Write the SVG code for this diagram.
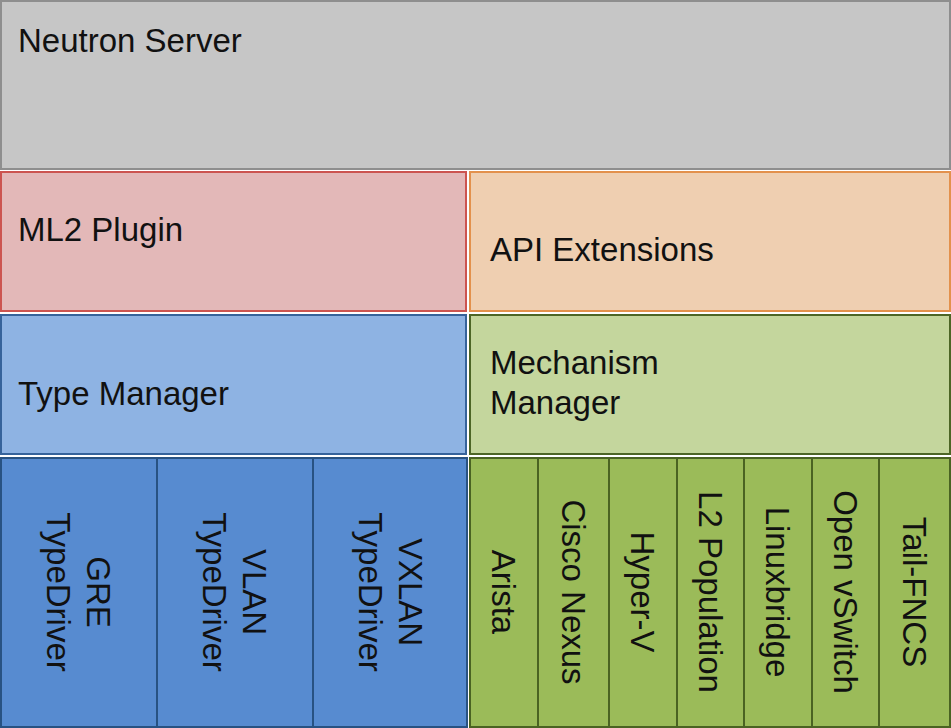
<svg xmlns="http://www.w3.org/2000/svg" width="951" height="728" viewBox="0 0 951 728">
<style>
text{font-family:"Liberation Sans",Arial,sans-serif;font-size:33px;fill:#111;}
.vt{text-anchor:middle;}
.srv{fill:#c6c6c6;stroke:#8e8e8e;stroke-width:2;}
.ml2{fill:#e3b8b8;stroke:#cc5450;stroke-width:2;}
.api{fill:#efcfb1;stroke:#e3914c;stroke-width:2;}
.tm{fill:#8eb3e3;stroke:#36639b;stroke-width:2;}
.td{fill:#578bd0;stroke:#285282;stroke-width:2;}
.mm{fill:#c4d69d;stroke:#4d6626;stroke-width:2;}
.md{fill:#9bbb59;stroke:#4a6322;stroke-width:2;}
</style>
<rect x="0" y="0" width="951" height="728" fill="#ffffff"/>
<g id="connectors"/>
<g id="neutron-server"><rect class="srv" x="1" y="1" width="949" height="168"/><text x="18" y="52">Neutron Server</text></g>
<g id="ml2-plugin"><rect class="ml2" x="1" y="172" width="465" height="139"/><text x="18" y="241">ML2 Plugin</text></g>
<g id="api-extensions"><rect class="api" x="470" y="172" width="480" height="139"/><text x="490" y="261">API Extensions</text></g>
<g id="type-manager"><rect class="tm" x="1" y="315" width="465" height="139"/><text x="18" y="405">Type Manager</text></g>
<g id="mechanism-manager"><rect class="mm" x="470" y="315" width="480" height="139"/><text x="490" y="374">Mechanism</text><text x="490" y="414">Manager</text></g>
<g id="gre-typedriver"><rect class="td" x="1" y="458" width="156" height="269"/><g transform="translate(78.5,592) rotate(90)"><text class="vt" x="0" y="-8">GRE</text><text class="vt" x="0" y="32">TypeDriver</text></g></g>
<g id="vlan-typedriver"><rect class="td" x="157" y="458" width="156" height="269"/><g transform="translate(235,592) rotate(90)"><text class="vt" x="0" y="-8">VLAN</text><text class="vt" x="0" y="32">TypeDriver</text></g></g>
<g id="vxlan-typedriver"><rect class="td" x="313" y="458" width="154" height="269"/><g transform="translate(390.5,592) rotate(90)"><text class="vt" x="0" y="-8">VXLAN</text><text class="vt" x="0" y="32">TypeDriver</text></g></g>
<g id="arista"><rect class="md" x="470" y="458" width="68" height="269"/><g transform="translate(504,592) rotate(90)"><text class="vt" x="0" y="12">Arista</text></g></g>
<g id="cisco-nexus"><rect class="md" x="538" y="458" width="71" height="269"/><g transform="translate(573.5,592) rotate(90)"><text class="vt" x="0" y="12">Cisco Nexus</text></g></g>
<g id="hyper-v"><rect class="md" x="609" y="458" width="68" height="269"/><g transform="translate(643,592) rotate(90)"><text class="vt" x="0" y="12">Hyper-V</text></g></g>
<g id="l2-population"><rect class="md" x="677" y="458" width="67" height="269"/><g transform="translate(710.5,592) rotate(90)"><text class="vt" x="0" y="12">L2 Population</text></g></g>
<g id="linuxbridge"><rect class="md" x="744" y="458" width="68" height="269"/><g transform="translate(778,592) rotate(90)"><text class="vt" x="0" y="12">Linuxbridge</text></g></g>
<g id="open-vswitch"><rect class="md" x="812" y="458" width="67" height="269"/><g transform="translate(845.5,592) rotate(90)"><text class="vt" x="0" y="12">Open vSwitch</text></g></g>
<g id="tail-fncs"><rect class="md" x="879" y="458" width="71" height="269"/><g transform="translate(914.5,592) rotate(90)"><text class="vt" x="0" y="12">Tail-FNCS</text></g></g>
</svg>
